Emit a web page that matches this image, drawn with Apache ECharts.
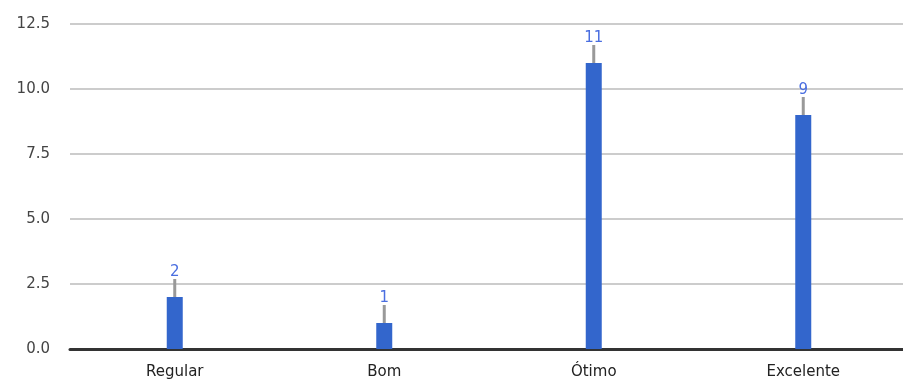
<!DOCTYPE html>
<html><head><meta charset="utf-8">
<script src="https://cdn.jsdelivr.net/npm/echarts@6/dist/echarts.min.js"></script>
<style>html,body{margin:0;padding:0;background:#fff}#c{width:903px;height:387px}</style>
</head><body><div id="c"></div>
<script>
var categories = ['Regular', 'Bom', 'Ótimo', 'Excelente'];
var values = [2, 1, 11, 9];
var yTicks = [0, 2.5, 5, 7.5, 10, 12.5];

var chart = echarts.init(document.getElementById('c'), null, {renderer: 'canvas'});
chart.setOption({
  animation: false,
  grid: {left: 70, right: -5, top: 24, bottom: 38, outerBoundsMode: 'none', containLabel: false},
  xAxis: {
    type: 'category', data: categories,
    axisLine: {show: true, lineStyle: {color: '#333', width: 3}},
    axisTick: {show: false},
    axisLabel: {color: '#222', fontFamily: 'DejaVu Sans', fontSize: 15, margin: 16}
  },
  yAxis: {
    type: 'value', min: yTicks[0], max: yTicks[yTicks.length - 1], interval: 2.5,
    axisLine: {show: false}, axisTick: {show: false},
    splitLine: {lineStyle: {color: '#cccccc', width: 2}},
    axisLabel: {color: '#444', fontFamily: 'DejaVu Sans', fontSize: 15, margin: 20,
      formatter: function (v) { return v.toFixed(1); }}
  },
  series: [{
    type: 'bar', data: values, barWidth: 16,
    itemStyle: {color: '#3366cc'}, z: 2
  }, {
    type: 'custom',
    data: values.map(function (v, i) { return [i, v]; }),
    z: 3,
    renderItem: function (params, api) {
      var p = api.coord([api.value(0), api.value(1)]);
      return {type: 'group', children: [
        {type: 'rect', shape: {x: p[0] - 1.5, y: p[1] - 18, width: 3, height: 18}, style: {fill: '#999999'}},
        {type: 'text', style: {text: String(api.value(1)), x: p[0], y: p[1] - 17,
          textAlign: 'center', textVerticalAlign: 'bottom', fill: '#4a6ee0',
          font: '15px DejaVu Sans'}}
      ]};
    }
  }]
});
</script></body></html>
